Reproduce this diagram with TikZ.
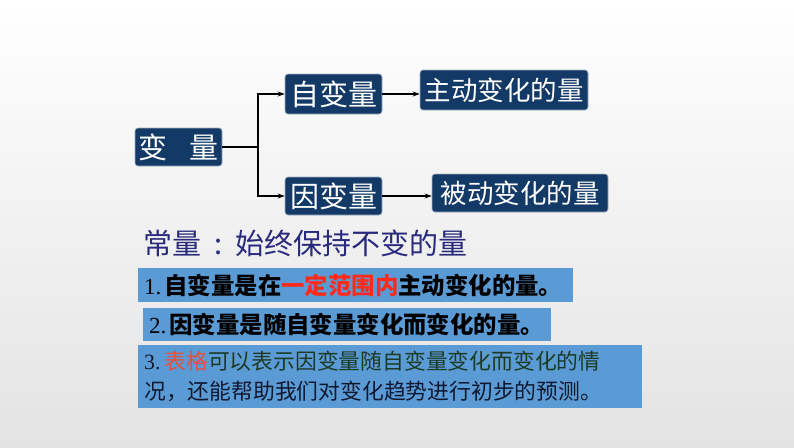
\documentclass[tikz,border=0pt]{standalone}
\usepackage{fontspec}
\newfontfamily\cjk{Noto Sans CJK SC}
\newfontfamily\numf{Liberation Serif}
\usetikzlibrary{arrows.meta}
\definecolor{navy}{HTML}{133A66}
\definecolor{lblue}{HTML}{5B9BD5}
\definecolor{cst}{HTML}{2A2A7C}
\definecolor{redt}{HTML}{FF2A1A}
\definecolor{redl}{HTML}{E8503A}
\definecolor{dgreen}{HTML}{1C3A24}
\definecolor{dnavy}{HTML}{101830}
\tikzset{
  navybox/.style={fill=navy, draw=navy!40!white, line width=0.6pt, rounded corners=3pt,
    text=white, inner sep=0pt, font=\cjk\fontsize{26.5}{30}\selectfont},
  bigtxt/.style={font=\cjk\fontsize{29}{32}\selectfont},
  bluebox/.style={fill=lblue, inner xsep=6pt, inner ysep=0pt, align=left, anchor=north west},
  conn/.style={line width=1.6pt, black},
  arr/.style={conn, -{Stealth[length=7pt,width=5pt]}}
}
\begin{document}
\begin{tikzpicture}[x=1pt,y=-1pt]
\shade[top color=white, bottom color=black!11] (0,0) rectangle (794,447);
\useasboundingbox (0,0) rectangle (794,447);
% tree
\node[navybox, bigtxt, minimum width=87pt, minimum height=38pt] (bl) at (178.5,147) {变\hspace{0.75em}量};
\node[navybox, bigtxt, minimum width=97pt, minimum height=40pt] (zi) at (333.5,94) {自变量};
\node[navybox, minimum width=168pt, minimum height=40pt] (zd) at (504,90) {主动变化的量};
\node[navybox, bigtxt, minimum width=97pt, minimum height=38pt] (yi) at (333.5,196) {因变量};
\node[navybox, minimum width=176pt, minimum height=38pt] (bd) at (520,193) {被动变化的量};
\coordinate (j) at (258,147);
\draw[conn] (bl.east) -- (j);
\draw[arr] (j) |- (zi.west);
\draw[arr] (j) |- (yi.west);
\draw[arr] (zi.east) -- (zi.east -| zd.west);
\draw[arr] (yi.east) -- (yi.east -| bd.west);
% constant
\node[anchor=west, inner sep=0pt, text=cst, font=\cjk\fontsize{29}{32}\selectfont] (cl) at (143,243) {常量\hspace{0.45em}:\hspace{0.45em}始终保持不变的量};
% box 1
\node[bluebox, minimum height=34pt, text width=423pt] (b1) at (138,268)
  {{\numf\fontsize{23}{26}\selectfont 1.}\hspace{3pt}{\cjk\bfseries\fontsize{23.4}{26}\selectfont 自变量是在\textcolor{redt}{一定范围内}主动变化的量。}};
% box 2
\node[bluebox, minimum height=33pt, text width=396pt] (b2) at (143,308)
  {{\numf\fontsize{23}{26}\selectfont 2.}\hspace{3pt}{\cjk\bfseries\fontsize{23.4}{26}\selectfont 因变量是随自变量变化而变化的量。}};
% box 3
\node[bluebox, minimum height=63pt, text width=492pt, inner xsep=6pt, font=\fontsize{21.8}{30}\selectfont] (b3) at (138,345)
  {{\numf\color{dnavy}3.}\hspace{4pt}{\cjk\textcolor{redl}{表格}\textcolor{dgreen}{可以表示因变量随自变量变化而变化的情}}\\
   {\cjk\color{dnavy}况，还能帮助我们对变化趋势进行初步的预测。}};
\end{tikzpicture}
\end{document}
